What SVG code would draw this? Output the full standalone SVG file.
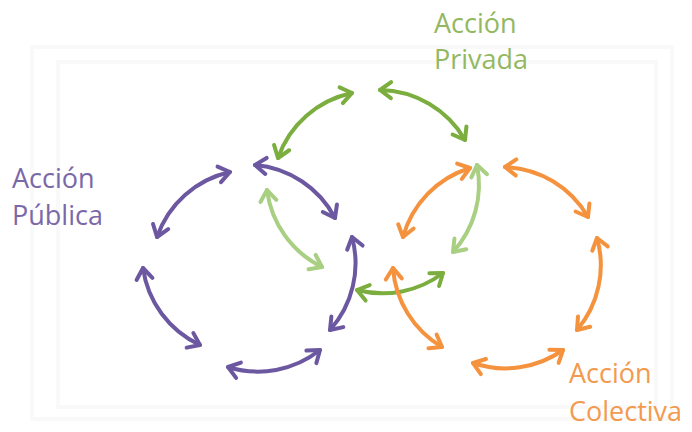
<svg xmlns="http://www.w3.org/2000/svg" width="692" height="432" viewBox="0 0 692 432">
<style>
.lbl{font-family:"Open Sans","Liberation Sans",sans-serif;font-size:27px}
.arc{fill:none;stroke-width:4;stroke-linecap:round}
.pu{stroke:#6c58a0;marker-start:url(#mpu);marker-end:url(#mpu)}
.gr{stroke:#7bae3f;marker-start:url(#mgr);marker-end:url(#mgr)}
.gl{stroke:#a9cf82;marker-start:url(#mgl);marker-end:url(#mgl)}
.or{stroke:#f5923e;marker-start:url(#mor);marker-end:url(#mor)}
.frame{fill:none;stroke:#f9f9f9;stroke-width:4}
</style>
<defs>
<marker id="mpu" viewBox="-15 -11 18 22" refX="0" refY="0" markerWidth="18" markerHeight="22" markerUnits="userSpaceOnUse" orient="auto-start-reverse"><path d="M-11,-8 L0,0 L-11,8" fill="none" stroke="#6c58a0" stroke-width="4" stroke-linecap="round" stroke-linejoin="round"/></marker>
<marker id="mgr" viewBox="-15 -11 18 22" refX="0" refY="0" markerWidth="18" markerHeight="22" markerUnits="userSpaceOnUse" orient="auto-start-reverse"><path d="M-11,-8 L0,0 L-11,8" fill="none" stroke="#7bae3f" stroke-width="4" stroke-linecap="round" stroke-linejoin="round"/></marker>
<marker id="mgl" viewBox="-15 -11 18 22" refX="0" refY="0" markerWidth="18" markerHeight="22" markerUnits="userSpaceOnUse" orient="auto-start-reverse"><path d="M-11,-8 L0,0 L-11,8" fill="none" stroke="#a9cf82" stroke-width="4" stroke-linecap="round" stroke-linejoin="round"/></marker>
<marker id="mor" viewBox="-15 -11 18 22" refX="0" refY="0" markerWidth="18" markerHeight="22" markerUnits="userSpaceOnUse" orient="auto-start-reverse"><path d="M-11,-8 L0,0 L-11,8" fill="none" stroke="#f5923e" stroke-width="4" stroke-linecap="round" stroke-linejoin="round"/></marker>
</defs>
<rect width="692" height="432" fill="#ffffff"/>
<rect class="frame" x="32" y="47" width="640" height="372"/>
<rect class="frame" x="58" y="62" width="598" height="345"/>
<g id="connectors">
<g id="privada-arrows">
<path class="arc gl" d="M322,267 A100,100 0 0 1 267,190"/>
<path class="arc gr" d="M278,158 A100,100 0 0 1 352,93"/>
<path class="arc gr" d="M380,90 A100,100 0 0 1 465,140"/>
<path class="arc gl" d="M477,165 A100,100 0 0 1 453,252"/>
<path class="arc gr" d="M443,273 A100,100 0 0 1 357,290"/>
</g>
<g id="publica-arrows">
<path class="arc pu" d="M157,237 A100,100 0 0 1 230,172"/>
<path class="arc pu" d="M255,165 A100,100 0 0 1 335,218"/>
<path class="arc pu" d="M352,237 A100,100 0 0 1 330,330"/>
<path class="arc pu" d="M320,350 A100,100 0 0 1 228,367"/>
<path class="arc pu" d="M200,345 A100,100 0 0 1 143,268"/>
</g>
<g id="colectiva-arrows">
<path class="arc or" d="M442,347 A100,100 0 0 1 393,268"/>
<path class="arc or" d="M403,237 A100,100 0 0 1 470,168"/>
<path class="arc or" d="M505,167 A100,100 0 0 1 588,217"/>
<path class="arc or" d="M597,238 A100,100 0 0 1 577,330"/>
<path class="arc or" d="M563,350 A100,100 0 0 1 473,363"/>
</g>
</g>
<g id="accion-privada">
<text class="lbl" fill="#93b862" x="434" y="33">Acción</text>
<text class="lbl" fill="#93b862" x="434" y="69">Privada</text>
</g>
<g id="accion-publica">
<text class="lbl" fill="#7a68a8" x="12" y="188">Acción</text>
<text class="lbl" fill="#7a68a8" x="12" y="225">Pública</text>
</g>
<g id="accion-colectiva">
<text class="lbl" fill="#f39a4f" x="569" y="383">Acción</text>
<text class="lbl" fill="#f39a4f" x="569" y="421">Colectiva</text>
</g>
</svg>
